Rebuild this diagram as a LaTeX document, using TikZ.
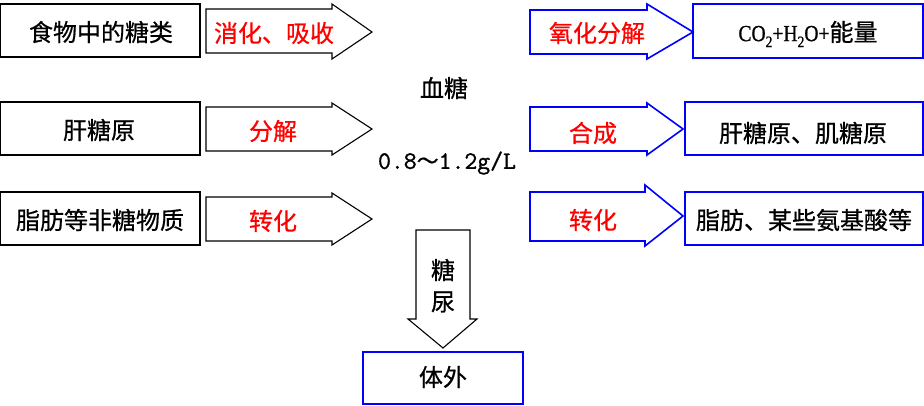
\documentclass[tikz,border=0pt]{standalone}
\usepackage{fontspec}
\newfontfamily\cjk[FakeBold=0.6]{Noto Sans CJK SC}
\newfontfamily\lat[FakeBold=0.8,FakeStretch=0.85]{Liberation Serif}
\newfontfamily\mono[FakeBold=1.2]{Latin Modern Mono}
\definecolor{myblue}{RGB}{0,0,255}
\definecolor{myred}{RGB}{255,0,0}
\begin{document}
\begin{tikzpicture}[x=1pt,y=-1pt,
  txt/.style={font=\cjk\fontsize{24}{24}\selectfont, inner sep=0pt},
  redtxt/.style={txt, text=myred},
  bbox/.style={draw=black, line width=1.2pt},
  blbox/.style={draw=myblue, line width=1.3pt},
  barrow/.style={draw=black, line width=1.1pt, fill=white},
  blarrow/.style={draw=myblue, line width=1.6pt, fill=white}]
\useasboundingbox (0,0) rectangle (924,405);
% left boxes
\draw[bbox] (0.8,4) rectangle (200,57);
\draw[bbox] (0.8,102) rectangle (200,155);
\draw[bbox] (0.8,192) rectangle (200,245);
\node[txt] (l1) at (101,32) {食物中的糖类};
\node[txt] (l2) at (99,130) {肝糖原};
\node[txt] (l3) at (100,220) {脂肪等非糖物质};
% left arrows
\draw[barrow] (206,9) -- (332,9) -- (332,4) -- (372,32) -- (332,59) -- (332,53) -- (206,53) -- cycle;
\draw[barrow] (206,107) -- (332,107) -- (332,103) -- (372,129) -- (332,155) -- (332,151) -- (206,151) -- cycle;
\draw[barrow] (206,197) -- (332,197) -- (332,193) -- (372,219) -- (332,245) -- (332,241) -- (206,241) -- cycle;
\node[redtxt] (a1) at (274,33) {消化、吸收};
\node[redtxt] (a2) at (273,131) {分解};
\node[redtxt] (a3) at (273,221) {转化};
% centre
\node[txt] (xt) at (444,88) {血糖};
\node[inner sep=0pt, font=\mono\fontsize{25}{25}\selectfont] (conc) at (447,163) {0.8{\cjk\fontsize{22}{22}\selectfont ～}1.2g/L};
% right arrows
\draw[blarrow] (530,10) -- (647,10) -- (647,4) -- (693,32) -- (647,59) -- (647,54) -- (530,54) -- cycle;
\draw[blarrow] (530,107) -- (647,107) -- (647,103) -- (683,129) -- (647,155) -- (647,151) -- (530,151) -- cycle;
\draw[blarrow] (530,192) -- (645,192) -- (645,185) -- (683,216) -- (645,246) -- (645,241) -- (530,241) -- cycle;
\node[redtxt] (b1) at (597,33) {氧化分解};
\node[redtxt] (b2) at (593,133) {合成};
\node[redtxt] (b3) at (593,220) {转化};
% right boxes
\draw[blbox] (693,4) rectangle (923,58);
\draw[blbox] (685,102) rectangle (923,155);
\draw[blbox] (685,192) rectangle (923,245);
\node[inner sep=0pt] (r1) at (808,34) {\lat\fontsize{23}{23}\selectfont CO\raisebox{-6pt}{\fontsize{16}{16}\selectfont 2}+H\raisebox{-6pt}{\fontsize{16}{16}\selectfont 2}O+{\cjk\fontsize{24}{24}\selectfont 能量}};
\node[txt] (r2) at (803,133) {肝糖原、肌糖原};
\node[txt] (r3) at (804,220) {脂肪、某些氨基酸等};
% down arrow
\draw[barrow] (416,230) -- (470,230) -- (470,319) -- (477,319) -- (443,348) -- (408,319) -- (416,319) -- cycle;
\node[txt] (d1) at (443,270) {糖};
\node[txt] (d2) at (443,302) {尿};
% bottom box
\draw[blbox] (363,352) rectangle (523,404);
\node[txt] (out) at (443,377) {体外};
\end{tikzpicture}
\end{document}
